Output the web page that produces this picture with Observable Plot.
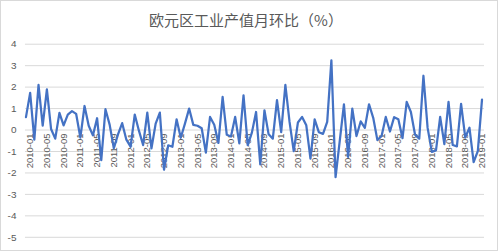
<!DOCTYPE html>
<html>
<head>
<meta charset="utf-8">
<script src="https://cdn.jsdelivr.net/npm/d3@7"></script>
<script src="https://cdn.jsdelivr.net/npm/@observablehq/plot@0.6"></script>
<style>
  html, body { margin: 0; padding: 0; background: #fff; }
  #wrap { position: relative; width: 498px; height: 251px; box-sizing: border-box; border: 1px solid #d9d9d9; overflow: hidden; }
  #chart { position: absolute; left: -1px; top: -1px; }
  #title { position: absolute; left: 0; top: 10px; width: 490px; text-align: center; font: 15px/18px "Noto Sans CJK SC", sans-serif; color: #595959; }
</style>
</head>
<body>
<div id="wrap">
  <div id="chart"></div>
  <div id="title">欧元区工业产值月环比（%）</div>
</div>
<script>
// Series: euro-area industrial production, month-on-month change (%), 2009-12 .. 2019-01
const startYear = 2009, startMonth = 12;
const values = [
  0.6,                                                                  // 2009-12
  1.73, -0.45, 2.1, 0.2, 1.9, 0.05, -0.4, 0.8, 0.22, 0.72, 0.88, 0.75,  // 2010
  -0.35, 1.12, 0.2, -0.25, 0.55, -1.4, 0.97, 0.25, -0.85, -0.2, 0.32, -0.45, // 2011
  -0.78, 0.72, -0.03, -0.7, 0.81, -0.85, 0.3, 0.81, -1.85, -0.71, -0.78, 0.5, // 2012
  -0.36, 0.3, 1.0, 0.24, 0.2, 0.08, -1.05, 0.61, 0.25, -0.6, 1.54, -0.22, // 2013
  -0.3, 0.61, -0.62, 1.62, -0.7, -0.12, 0.84, -1.6, 0.92, -0.2, -0.4, 1.39, // 2014
  -0.1, 2.1, 0.38, -0.98, 0.35, 0.61, 0.22, -1.33, 0.5, -0.1, -0.18, 0.38, // 2015
  3.25, -2.2, -0.5, 1.2, -1.25, 1.0, -0.28, 0.4, 0.1, 1.2, 0.57, -0.47, // 2016
  -0.28, 0.61, -0.07, 0.6, 0.5, -0.38, 1.31, 0.84, -0.22, -0.4, 2.53, 0.1, // 2017
  -1.02, -0.95, 0.61, -0.66, 1.31, -0.7, -0.76, 1.22, -0.35, 0.11, -1.5, -0.98, // 2018
  1.42                                                                  // 2019-01
];
const tickLabels = [
  "2010-01","2010-05","2010-09","2011-01","2011-05","2011-09","2012-01","2012-05","2012-09",
  "2013-01","2013-05","2013-09","2014-01","2014-05","2014-09","2015-01","2015-05","2015-09",
  "2016-01","2016-05","2016-09","2017-01","2017-05","2017-09","2018-01","2018-05","2018-09","2019-01"
];
const yTicks = [4, 3, 2, 1, 0, -1, -2, -3, -4, -5];
const title = "欧元区工业产值月环比（%）";

// month categories (label strings), index relative to 2010-01
const months = values.map((_, k) => {
  const m0 = (startYear * 12 + (startMonth - 1)) + k;
  const y = Math.floor(m0 / 12), m = m0 % 12 + 1;
  return `${y}-${String(m).padStart(2, "0")}`;
});
const offset = months.indexOf("2010-01");
const data = values.map((v, k) => ({i: k - offset, v, month: months[k]}));
const ticks = tickLabels.map(t => ({i: months.indexOf(t) - offset, label: t}));

const chart = Plot.plot({
  width: 498,
  height: 251,
  marginLeft: 25,
  marginRight: 13,
  marginTop: 43.8,
  marginBottom: 13.7,
  style: {background: "transparent", fontFamily: "'Liberation Sans', Arial, sans-serif"},
  x: {type: "linear", domain: [-1.12, 108.6], axis: null},
  y: {domain: [-5, 4], ticks: yTicks, tickSize: 0, tickPadding: 9, tickFormat: d => String(d), label: null},
  marks: [
    Plot.ruleY(yTicks, {stroke: "#d9d9d9", strokeWidth: 1}),
    Plot.axisY({ticks: yTicks, tickSize: 0, tickPadding: 9, tickFormat: d => String(d), label: null, fontSize: 10, color: "#595959"}),
    Plot.text(ticks, {x: "i", y: () => 0, text: "label", rotate: -90, textAnchor: "end", dy: 3.5, fontSize: 9.5, fill: "#595959"}),
    Plot.line(data, {x: "i", y: "v", stroke: "#4472C4", strokeWidth: 2.25, strokeLinejoin: "round"})
  ]
});
document.getElementById("chart").appendChild(chart);
</script>
</body>
</html>
